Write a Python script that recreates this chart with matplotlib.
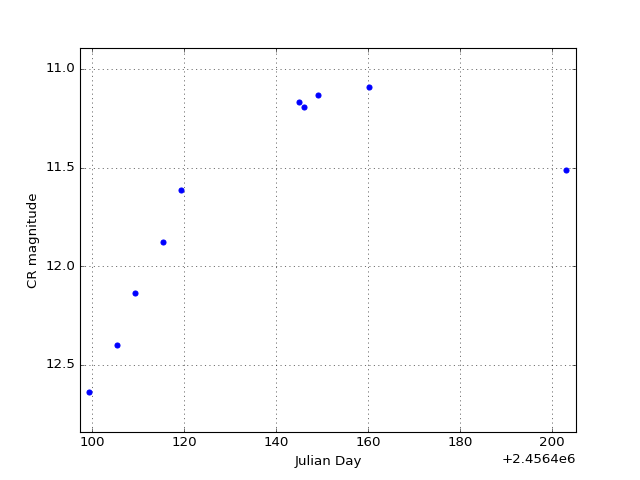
import matplotlib
matplotlib.use("Agg")
import matplotlib.pyplot as plt
import matplotlib.ticker as mticker
import numpy as np

plt.style.use('classic')

offset = 2456400
jd_rel = [99.35, 105.4, 109.35, 115.4, 119.35, 145.0, 146.1, 149.1, 160.2, 203.0]
mag = [12.637, 12.399, 12.135, 11.877, 11.613, 11.167, 11.193, 11.132, 11.091, 11.512]

jd = np.array(jd_rel) + offset


class FixedOffsetFormatter(mticker.ScalarFormatter):
    def __init__(self, off):
        super().__init__(useOffset=off)
        self._fixed_off = off

    def _compute_offset(self):
        self.offset = self._fixed_off

    def get_offset(self):
        return '+2.4564e6'


fig = plt.figure(figsize=(8, 6), dpi=80)
ax = fig.add_subplot(111)
ax.scatter(jd, mag, s=20, c='blue', edgecolors='blue', zorder=3)
ax.set_xlim(offset + 97.39, offset + 205.2)
ax.set_ylim(12.84, 10.894)
ax.set_xticks(offset + np.array([100, 120, 140, 160, 180, 200]))
ax.set_yticks([11.0, 11.5, 12.0, 12.5])
ax.xaxis.set_major_formatter(FixedOffsetFormatter(offset))
ax.grid(True)
ax.set_xlabel('Julian Day')
ax.set_ylabel('CR magnitude')
fig.savefig('out.png', dpi=80)
